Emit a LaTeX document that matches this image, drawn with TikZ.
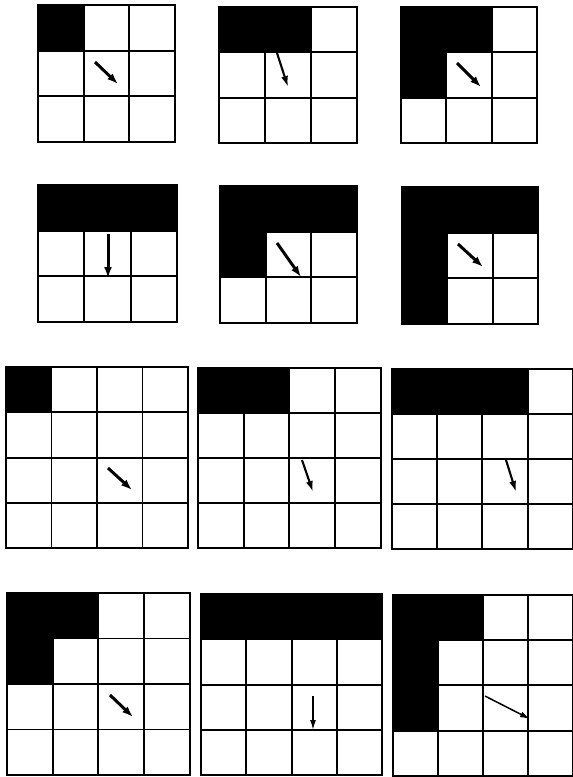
\documentclass[tikz,border=0pt]{standalone}
\usetikzlibrary{arrows.meta}

\tikzset{
  gridline/.style={line width=1.9pt, line cap=rect},
  move/.style={-{Latex[length=11pt,width=8pt]}, line width=3pt},
  midmove/.style={-{Latex[length=11pt,width=7pt]}, line width=2.1pt},
  thinmove/.style={-{Latex[length=10pt,width=6pt]}, line width=1.5pt},
}

% n x n board of cells, drawn in cell units
\newcommand{\cellgrid}[1]{%
  \foreach \k in {0,...,#1} {
    \draw[gridline] (\k,0) -- (\k,#1);
    \draw[gridline] (0,\k) -- (#1,\k);
  }}

\begin{document}
\begin{tikzpicture}[x=1pt, y=-1pt]
\useasboundingbox (0,0) rectangle (573,777);

% Row 1 -- 3x3 boards
\begin{scope}[shift={(38,5)}, x=45.7pt, y=-45.7pt]
  \fill (0,0) rectangle (1,1);
  \cellgrid{3}
\end{scope}
\begin{scope}[shift={(219,7)}, x=46pt, y=-45.3pt]
  \fill (0,0) rectangle (2,1);
  \cellgrid{3}
\end{scope}
\begin{scope}[shift={(401,7)}, x=45.3pt, y=-45.3pt]
  \fill (0,0) -- (2,0) -- (2,1) -- (1,1) -- (1,2) -- (0,2) -- cycle;
  \cellgrid{3}
\end{scope}

% Row 2 -- 3x3 boards
\begin{scope}[shift={(38,185)}, x=46.3pt, y=-45.7pt]
  \fill (0,0) rectangle (3,1);
  \cellgrid{3}
\end{scope}
\begin{scope}[shift={(220,186)}, x=45.7pt, y=-45.7pt]
  \fill (0,0) -- (3,0) -- (3,1) -- (1,1) -- (1,2) -- (0,2) -- cycle;
  \cellgrid{3}
\end{scope}
\begin{scope}[shift={(402,187)}, x=45.3pt, y=-45.7pt]
  \fill (0,0) -- (3,0) -- (3,1) -- (1,1) -- (1,3) -- (0,3) -- cycle;
  \cellgrid{3}
\end{scope}

% Row 3 -- 4x4 boards
\begin{scope}[shift={(6,367)}, x=45.5pt, y=-45.3pt]
  \fill (0,0) rectangle (1,1);
  \cellgrid{4}
\end{scope}
\begin{scope}[shift={(198,368)}, x=45.7pt, y=-45pt]
  \fill (0,0) rectangle (2,1);
  \cellgrid{4}
\end{scope}
\begin{scope}[shift={(392,369)}, x=45.2pt, y=-45pt]
  \fill (0,0) rectangle (3,1);
  \cellgrid{4}
\end{scope}

% Row 4 -- 4x4 boards
\begin{scope}[shift={(7,593)}, x=45.7pt, y=-45.5pt]
  \fill (0,0) -- (2,0) -- (2,1) -- (1,1) -- (1,2) -- (0,2) -- cycle;
  \cellgrid{4}
\end{scope}
\begin{scope}[shift={(201,594)}, x=45.3pt, y=-45.3pt]
  \fill (0,0) rectangle (4,1);
  \cellgrid{4}
\end{scope}
\begin{scope}[shift={(393,595)}, x=45pt, y=-45.2pt]
  \fill (0,0) -- (2,0) -- (2,1) -- (1,1) -- (1,3) -- (0,3) -- cycle;
  \cellgrid{4}
\end{scope}

% Gradient arrows
\draw[move] (95,62) -- (118,84);
\draw[midmove] (277,53) -- (288,87);
\draw[move] (457,63) -- (481,87);
\draw[move] (108,234) -- (108,278);
\draw[move] (277,243) -- (301,277);
\draw[move] (458,244) -- (483,267);
\draw[move] (108,468) -- (132,490);
\draw[midmove] (302,460) -- (313,492);
\draw[midmove] (506,460) -- (516,492);
\draw[move] (110,695) -- (133,717);
\draw[thinmove] (313,696) -- (313,730);
\draw[thinmove] (485,696) -- (530,719);
\end{tikzpicture}
\end{document}
